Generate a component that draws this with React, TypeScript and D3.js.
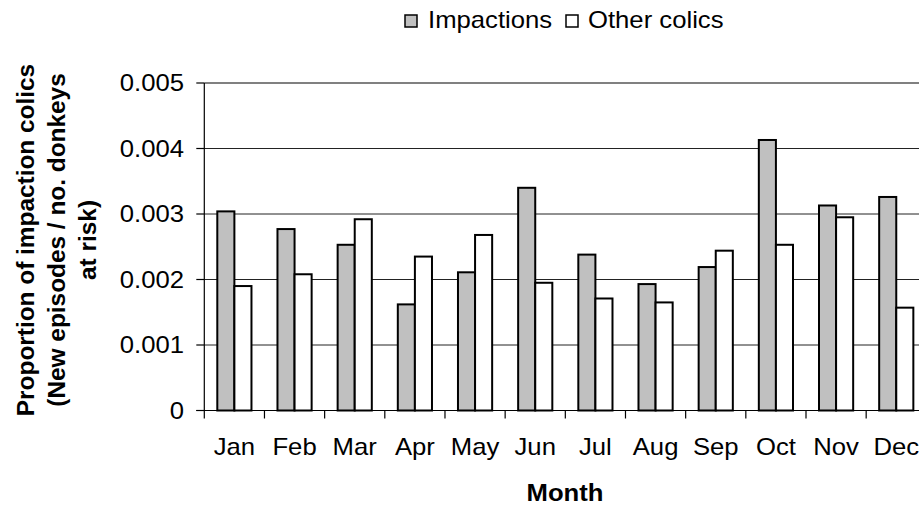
import React from "react";
import * as d3 from "d3";

const months = ["Jan", "Feb", "Mar", "Apr", "May", "Jun", "Jul", "Aug", "Sep", "Oct", "Nov", "Dec"];
const impactions = [0.00304, 0.00277, 0.00253, 0.00162, 0.00211, 0.0034, 0.00238, 0.00193, 0.00219, 0.00413, 0.00313, 0.00326];
const otherColics = [0.0019, 0.00208, 0.00292, 0.00235, 0.00268, 0.00195, 0.00171, 0.00165, 0.00244, 0.00253, 0.00295, 0.00157];
const seriesNames = ["Impactions", "Other colics"];
const seriesFills = ["#c0c0c0", "#ffffff"];
const yTicks = [0, 0.001, 0.002, 0.003, 0.004, 0.005];
const yTitleLines = ["Proportion of impaction colics", "(New episodes / no. donkeys", "at risk)"];

const W = 919;
const H = 508;
const FONT = "'Liberation Sans', Arial, sans-serif";
const SX = 1.07;

function HText(props: {
  x: number;
  y: number;
  anchor?: "start" | "middle" | "end";
  bold?: boolean;
  dy?: string;
  children: React.ReactNode;
}) {
  return (
    <text
      transform={`translate(${props.x},${props.y}) scale(${SX},1)`}
      dy={props.dy}
      textAnchor={props.anchor || "start"}
      fontSize={24}
      fontWeight={props.bold ? "bold" : "normal"}
      fill="#000"
    >
      {props.children}
    </text>
  );
}

export default function App() {
  const left = 204.3;
  const catW = 60.17;
  const right = left + catW * months.length;
  const top = 83;
  const bottom = 410.5;

  const x = d3.scaleBand<string>().domain(months).range([left, right]).padding(0);
  const inner = d3
    .scaleBand<string>()
    .domain(seriesNames)
    .range([13, catW - 13])
    .padding(0);
  const y = d3.scaleLinear().domain([0, 0.005]).range([bottom, top]);

  const series = [impactions, otherColics];
  const fmt = (v: number) => (v === 0 ? "0" : d3.format(".3f")(v));

  return (
    <svg
      width={W}
      height={H}
      style={{ position: "absolute", left: 0, top: 0, background: "#fff" }}
      fontFamily={FONT}
    >
      <rect x={0} y={0} width={W} height={H} fill="#fff" />
      {yTicks.slice(1).map((t) => (
        <line
          key={"g" + t}
          x1={left}
          x2={right}
          y1={y(t)}
          y2={y(t)}
          stroke={t === 0.005 ? "#808080" : "#222"}
          strokeWidth={t === 0.005 ? 2 : 1}
        />
      ))}
      {months.map((m, i) =>
        series.map((s, j) => (
          <rect
            key={m + j}
            x={(x(m) as number) + (inner(seriesNames[j]) as number)}
            y={y(s[i])}
            width={inner.bandwidth()}
            height={bottom - y(s[i])}
            fill={seriesFills[j]}
            stroke="#000"
            strokeWidth={2}
          />
        ))
      )}
      <line x1={left} x2={left} y1={top} y2={bottom} stroke="#000" strokeWidth={1.2} />
      <line x1={left - 8} x2={right} y1={bottom} y2={bottom} stroke="#000" strokeWidth={1.2} />
      {yTicks.map((t) => (
        <g key={"yt" + t}>
          <line x1={left - 8} x2={left} y1={y(t)} y2={y(t)} stroke="#000" strokeWidth={1.2} />
          <HText x={184} y={y(t)} dy="0.35em" anchor="end">
            {fmt(t)}
          </HText>
        </g>
      ))}
      {months.map((m) => (
        <g key={"xt" + m}>
          <line
            x1={x(m) as number}
            x2={x(m) as number}
            y1={bottom}
            y2={bottom + 8}
            stroke="#000"
            strokeWidth={1.2}
          />
          <HText x={(x(m) as number) + x.bandwidth() / 2} y={455} anchor="middle">
            {m}
          </HText>
        </g>
      ))}
      <HText x={565} y={501} anchor="middle" bold>
        Month
      </HText>
      <g transform="translate(0,240) rotate(-90)">
        {yTitleLines.map((l, k) => (
          <text
            key={l}
            x={0}
            y={34 + k * 31}
            textAnchor="middle"
            fontSize={24.4}
            fontWeight="bold"
            fill="#000"
          >
            {l}
          </text>
        ))}
      </g>
      <rect x={405} y={15} width={12} height={12} fill={seriesFills[0]} stroke="#000" strokeWidth={1.5} />
      <HText x={428} y={28}>
        {seriesNames[0]}
      </HText>
      <rect x={566} y={15} width={12} height={12} fill={seriesFills[1]} stroke="#000" strokeWidth={1.5} />
      <HText x={588} y={28}>
        {seriesNames[1]}
      </HText>
    </svg>
  );
}
